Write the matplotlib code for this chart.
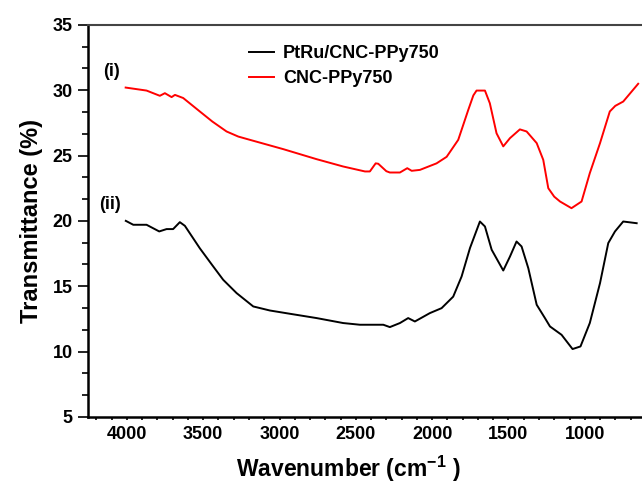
import matplotlib
matplotlib.use("Agg")
import matplotlib.pyplot as plt
from matplotlib.ticker import MultipleLocator

plt.rcParams['font.family'] = ['Liberation Sans', 'DejaVu Sans']
plt.rcParams['font.weight'] = 'bold'
plt.rcParams['mathtext.fontset'] = 'custom'
plt.rcParams['mathtext.rm'] = 'Liberation Sans:bold'
plt.rcParams['mathtext.bf'] = 'Liberation Sans:bold'

# CNC-PPy750 (i)
wnRed = [4008, 3871, 3784, 3751, 3707, 3685, 3631, 3522, 3440, 3347, 3270, 3194, 2976, 2757,
         2583, 2440, 2408, 2370, 2353, 2300, 2277, 2211, 2163, 2134, 2080, 1971,
         1905, 1829, 1763, 1730, 1709, 1654, 1622, 1578, 1534, 1490, 1425, 1381, 1315,
         1272, 1239, 1200, 1162, 1087, 1021, 967, 900, 836, 800, 748, 650]
tRed = [30.2, 29.97, 29.57, 29.77, 29.47, 29.64, 29.4, 28.37, 27.6, 26.84, 26.45, 26.2, 25.49, 24.72,
        24.16, 23.78, 23.78, 24.4, 24.37, 23.8, 23.7, 23.7, 24.03, 23.83, 23.9, 24.4,
        24.9, 26.2, 28.5, 29.6, 29.97, 29.97, 29.0, 26.7, 25.7, 26.33, 27.0, 26.84, 25.95,
        24.67, 22.5, 21.85, 21.48, 20.97, 21.48, 23.65, 25.95, 28.37, 28.8, 29.13, 30.49]

# PtRu/CNC-PPy750 (ii)
wnBlack = [4007, 3958, 3871, 3788, 3740, 3697, 3653, 3620, 3522, 3440, 3369, 3281, 3172,
           3063, 2932, 2757, 2583, 2473, 2353, 2320, 2277, 2211, 2157, 2113, 2015,
           1938, 1862, 1807, 1752, 1687, 1654, 1610, 1534, 1490, 1447, 1414, 1370,
           1315, 1261, 1228, 1152, 1080, 1028, 967, 900, 846, 802, 748, 660]
tBlack = [20.0, 19.7, 19.7, 19.19, 19.37, 19.37, 19.9, 19.62, 17.9, 16.6, 15.49, 14.47, 13.45,
          13.14, 12.89, 12.56, 12.18, 12.05, 12.05, 12.05, 11.87, 12.18, 12.56, 12.3, 12.94,
          13.32, 14.2, 15.74, 17.92, 19.95, 19.57, 17.79, 16.2, 17.27, 18.42, 18.04, 16.38,
          13.58, 12.56, 11.92, 11.28, 10.19, 10.39, 12.18, 15.24, 18.3, 19.19, 19.95, 19.82]

fig = plt.figure(figsize=(6.42, 4.87), dpi=100)
ax = fig.add_axes([0.137, 0.144, 0.863, 0.805])

ax.plot(wnBlack, tBlack, color='black', lw=1.4, label='PtRu/CNC-PPy750')
ax.plot(wnRed, tRed, color='red', lw=1.4, label='CNC-PPy750')

ax.set_xlim(4255, 625)
ax.set_ylim(5, 35)
ax.xaxis.set_major_locator(MultipleLocator(500))
ax.xaxis.set_minor_locator(MultipleLocator(100))
ax.yaxis.set_major_locator(MultipleLocator(5))
ax.yaxis.set_minor_locator(MultipleLocator(5 / 3))
ax.tick_params(axis='x', which='both', direction='out', length=2.5, width=1.2, labelsize=13, pad=4)
ax.tick_params(axis='y', which='major', direction='out', length=7, width=1.2, labelsize=13, pad=4)
ax.tick_params(axis='y', which='minor', direction='out', length=4, width=1.2)

ax.spines['right'].set_visible(False)
ax.spines['left'].set_linewidth(1.8)
ax.spines['bottom'].set_linewidth(1.8)
ax.spines['top'].set_linewidth(1.5)
ax.spines['top'].set_color('#444444')

ax.set_xlabel('Wavenumber (cm$^{-1}$ )', fontsize=16.5, fontweight='bold')
ax.xaxis.set_label_coords(0.47, -0.095)
ax.set_ylabel('Transmittance (%)', fontsize=17, fontweight='bold', labelpad=7)

ax.text(4045, 30.8, '(i)', fontsize=13, fontweight='bold', ha='right', va='bottom')
ax.text(4040, 20.6, '(ii)', fontsize=13, fontweight='bold', ha='right', va='bottom')

leg = ax.legend(loc='upper left', bbox_to_anchor=(0.262, 0.99), frameon=False,
                fontsize=13, handlelength=1.35, handletextpad=0.5, labelspacing=0.45)
for t in leg.get_texts():
    t.set_fontweight('bold')

fig.savefig('out.png', dpi=100)
